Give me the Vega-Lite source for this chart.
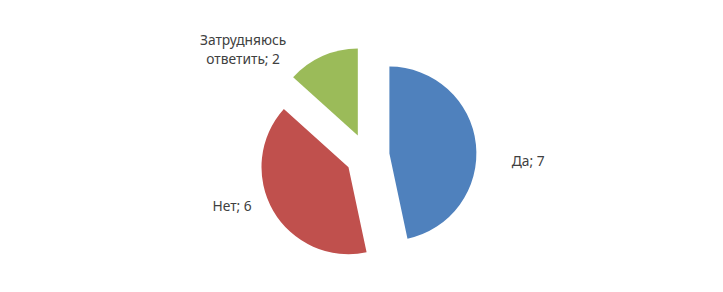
{
  "$schema": "https://vega.github.io/schema/vega-lite/v6.json",
  "width": 723,
  "height": 292,
  "autosize": {"type": "fit", "contains": "padding"},
  "padding": {"left": 11, "top": 20, "right": 0, "bottom": 0},
  "background": "white",
  "view": {"stroke": null},
  "data": {
    "values": [
      {"answer": "Да", "value": 7},
      {"answer": "Нет", "value": 6},
      {"answer": "Затрудняюсь\nответить", "value": 2}
    ]
  },
  "transform": [
    {"stack": "value", "groupby": [], "sort": [{"field": "value", "order": "descending"}], "as": ["start", "end"]},
    {"calculate": "(datum.start + datum.end) / 2", "as": "mid"},
    {"calculate": "datum.answer + '; ' + datum.value", "as": "label"}
  ],
  "encoding": {
    "theta": {"field": "start", "type": "quantitative", "scale": {"domain": [0, 15]}},
    "theta2": {"field": "end"},
    "color": {
      "field": "answer",
      "type": "nominal",
      "scale": {"domain": ["Да", "Нет", "Затрудняюсь\nответить"], "range": ["#4F81BD", "#C0504D", "#9BBB59"]},
      "legend": null
    }
  },
  "layer": [
    {"transform": [{"filter": "datum.answer == 'Да'"}], "mark": {"type": "arc", "outerRadius": 87, "xOffset": 22.4, "yOffset": -2.4}},
    {"transform": [{"filter": "datum.answer == 'Нет'"}], "mark": {"type": "arc", "outerRadius": 87, "xOffset": -18.5, "yOffset": 11.2}},
    {"transform": [{"filter": "datum.answer != 'Да' && datum.answer != 'Нет'"}], "mark": {"type": "arc", "outerRadius": 87, "xOffset": -9.2, "yOffset": -20.6}},
    {
      "transform": [{"filter": "datum.answer == 'Да'"}],
      "mark": {"type": "text", "radius": 160, "dx": 2, "dy": 23, "font": "Noto Sans", "fontSize": 13.8, "color": "#404040", "align": "center", "baseline": "middle"},
      "encoding": {"theta": {"field": "mid", "type": "quantitative"}, "theta2": null, "color": {"value": "#404040"}, "text": {"field": "label"}}
    },
    {
      "transform": [{"filter": "datum.answer == 'Нет'"}],
      "mark": {"type": "text", "radius": 135, "dx": -18, "dy": -17, "font": "Noto Sans", "fontSize": 13.8, "color": "#404040", "align": "center", "baseline": "middle"},
      "encoding": {"theta": {"field": "mid", "type": "quantitative"}, "theta2": null, "color": {"value": "#404040"}, "text": {"field": "label"}}
    },
    {
      "transform": [{"filter": "datum.answer != 'Да' && datum.answer != 'Нет'"}],
      "mark": {"type": "text", "radius": 130, "dx": -71, "dy": 4, "font": "Noto Sans", "fontSize": 13.8, "color": "#404040", "align": "center", "baseline": "middle", "lineBreak": "\n", "lineHeight": 19},
      "encoding": {"theta": {"field": "mid", "type": "quantitative"}, "theta2": null, "color": {"value": "#404040"}, "text": {"field": "label"}}
    }
  ]
}
